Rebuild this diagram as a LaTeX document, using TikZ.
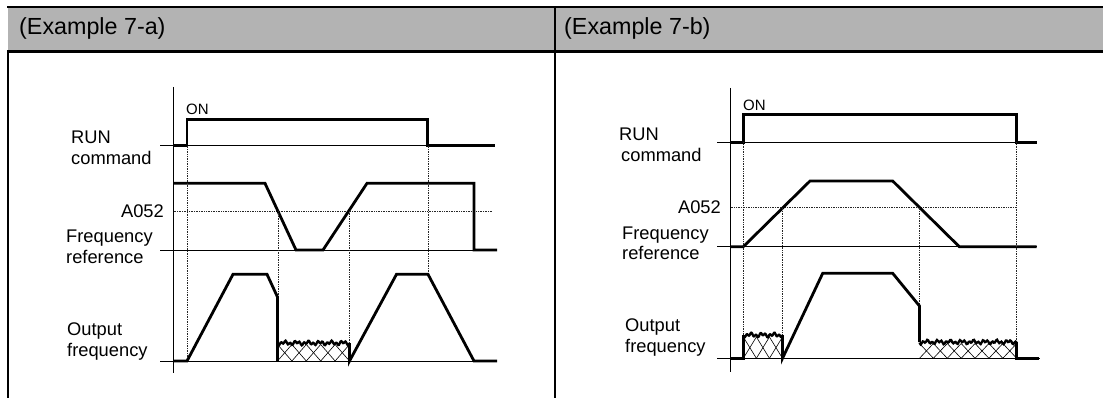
\documentclass[tikz,border=0pt]{standalone}
\usepackage{fontspec}
\setmainfont{Liberation Sans}
\definecolor{hdrgray}{HTML}{B3B3B3}
\newcommand\mynoise[3]{%
  \draw[wave, shift={(#1,0)}] plot[domain=0:#2, samples=90, smooth]
    (\x,{#3+1.3*sin(\x*78)+1.1*sin(\x*31+40)});}
\newcommand\myhatch[5]{% x0, cellwidth, count, base, top
  \foreach \i in {1,...,#3}{%
    \draw[hatchl] ({#1+(\i-1)*#2},#4) -- ({#1+\i*#2},#5);
    \draw[hatchl] ({#1+(\i-1)*#2},#5) -- ({#1+\i*#2},#4);}}
\tikzset{
  sig/.style={line width=2.8pt, line join=miter},
  thinl/.style={line width=0.9pt},
  guide/.style={line width=0.6pt, dash pattern=on 0.6pt off 1.1pt, black!85},
  lbl/.style={font=\fontsize{18.3}{21}\selectfont, inner sep=0pt, anchor=base west},
  hdr/.style={font=\fontsize{23.3}{27}\selectfont, inner sep=0pt, anchor=base west},
  onl/.style={font=\fontsize{15}{18}\selectfont, inner sep=0pt, anchor=base west},
  hatchl/.style={line width=0.6pt},
  wave/.style={line width=2.3pt},
  border/.style={line width=2.6pt},
}
\begin{document}
\begin{tikzpicture}[x=1pt,y=-1pt]
\useasboundingbox (0,0) rectangle (1103,398);
% table frame
\fill[hdrgray] (8,7) rectangle (1103,51.5);
\draw[border] (7,7) -- (1103,7);
\draw[border] (7,51.5) -- (1103,51.5);
\draw[border] (8,51.5) -- (8,398);
\draw[border] (555,7) -- (555,398);
\node[hdr] (hA) at (19,34.3) {(Example 7-a)};
\node[hdr] (hB) at (564,34.3) {(Example 7-b)};

% ===== Left panel =====
\draw[thinl] (173.5,87) -- (173.5,373);
% RUN command
\draw[thinl] (160,145.7) -- (495,145.7);
\draw[sig] (173.5,145.7) -- (187,145.7) -- (187,119.5) -- (427.5,119.5) -- (427.5,145.7) -- (495,145.7);
\node[onl] (onA) at (186,114.5) {ON};
% frequency reference
\draw[thinl] (160,250) -- (497,250);
\draw[guide] (173.5,211) -- (492,211);
\draw[sig] (173.5,183.3) -- (265,183.3) -- (296,250) -- (323,250) -- (367,183.3) -- (474,183.3) -- (474,250) -- (497,250);
% vertical guides
\draw[guide] (187,145.7) -- (187,361);
\draw[guide] (278,211) -- (278,297);
\draw[guide] (349.5,211) -- (349.5,343);
\draw[guide] (428,145.7) -- (428,274.3);
% output frequency
\draw[thinl] (160,361) -- (497,361);
\myhatch{277.5}{14.4}{5}{361}{344.5}
\draw[sig] (173.5,361) -- (187,361) -- (233,274.3) -- (267,274.3) -- (277.5,297) -- (277.5,361);
\mynoise{277.5}{72}{343}
\draw[sig] (349.5,343) -- (349.5,361) -- (396.5,274.3) -- (428,274.3) -- (474,361) -- (497,361);
% labels
\node[lbl] (runA) at (71,144) {RUN};
\node[lbl] (cmdA) at (71,165) {command};
\node[lbl, anchor=east] (aA) at (164,211) {A052};
\node[lbl] (frA) at (66,243) {Frequency};
\node[lbl] (refA) at (66,263) {reference};
\node[lbl] (outA) at (67,335) {Output};
\node[lbl] (ofA) at (67,356) {frequency};

% ===== Right panel =====
\draw[thinl] (730.7,88) -- (730.7,372);
% RUN command
\draw[thinl] (717,142.3) -- (1037,142.3);
\draw[sig] (730.7,142.3) -- (743.3,142.3) -- (743.3,114.3) -- (1016.7,114.3) -- (1016.7,142.3) -- (1036.7,142.3);
\node[onl] (onB) at (743,111) {ON};
% frequency reference
\draw[thinl] (717,246.7) -- (1037,246.7);
\draw[guide] (730.7,207.7) -- (1016.7,207.7);
\draw[sig] (730.7,246.7) -- (743.3,246.7) -- (810,181) -- (892.7,181) -- (959.3,246.7) -- (1036.7,246.7);
% vertical guides
\draw[guide] (743.3,142.3) -- (743.3,358.3);
\draw[guide] (782.5,207.7) -- (782.5,358.3);
\draw[guide] (919.5,207.7) -- (919.5,306);
\draw[guide] (1016.7,142.3) -- (1016.7,342);
% output frequency
\draw[thinl] (717,358.3) -- (1040,358.3);
\myhatch{743.3}{13.07}{3}{358.3}{337}
\myhatch{919.5}{13.886}{7}{358.3}{343.5}
\draw[sig] (730.7,358.3) -- (743.3,358.3) -- (743.3,335);
\mynoise{743.3}{39.2}{335}
\draw[sig] (782.5,335) -- (782.5,358.3) -- (822.7,273.3) -- (892.7,273.3) -- (919.5,306) -- (919.5,342);
\mynoise{919.5}{97.2}{342}
\draw[sig] (1016.7,342) -- (1016.7,358.3) -- (1039.3,358.3);
% labels
\node[lbl] (runB) at (619,140.5) {RUN};
\node[lbl] (cmdB) at (621,161.5) {command};
\node[lbl, anchor=east] (aB) at (721,207.7) {A052};
\node[lbl] (frB) at (622,239.5) {Frequency};
\node[lbl] (refB) at (622,259.5) {reference};
\node[lbl] (outB) at (625,331.5) {Output};
\node[lbl] (ofB) at (625,352.5) {frequency};
\end{tikzpicture}
\end{document}
